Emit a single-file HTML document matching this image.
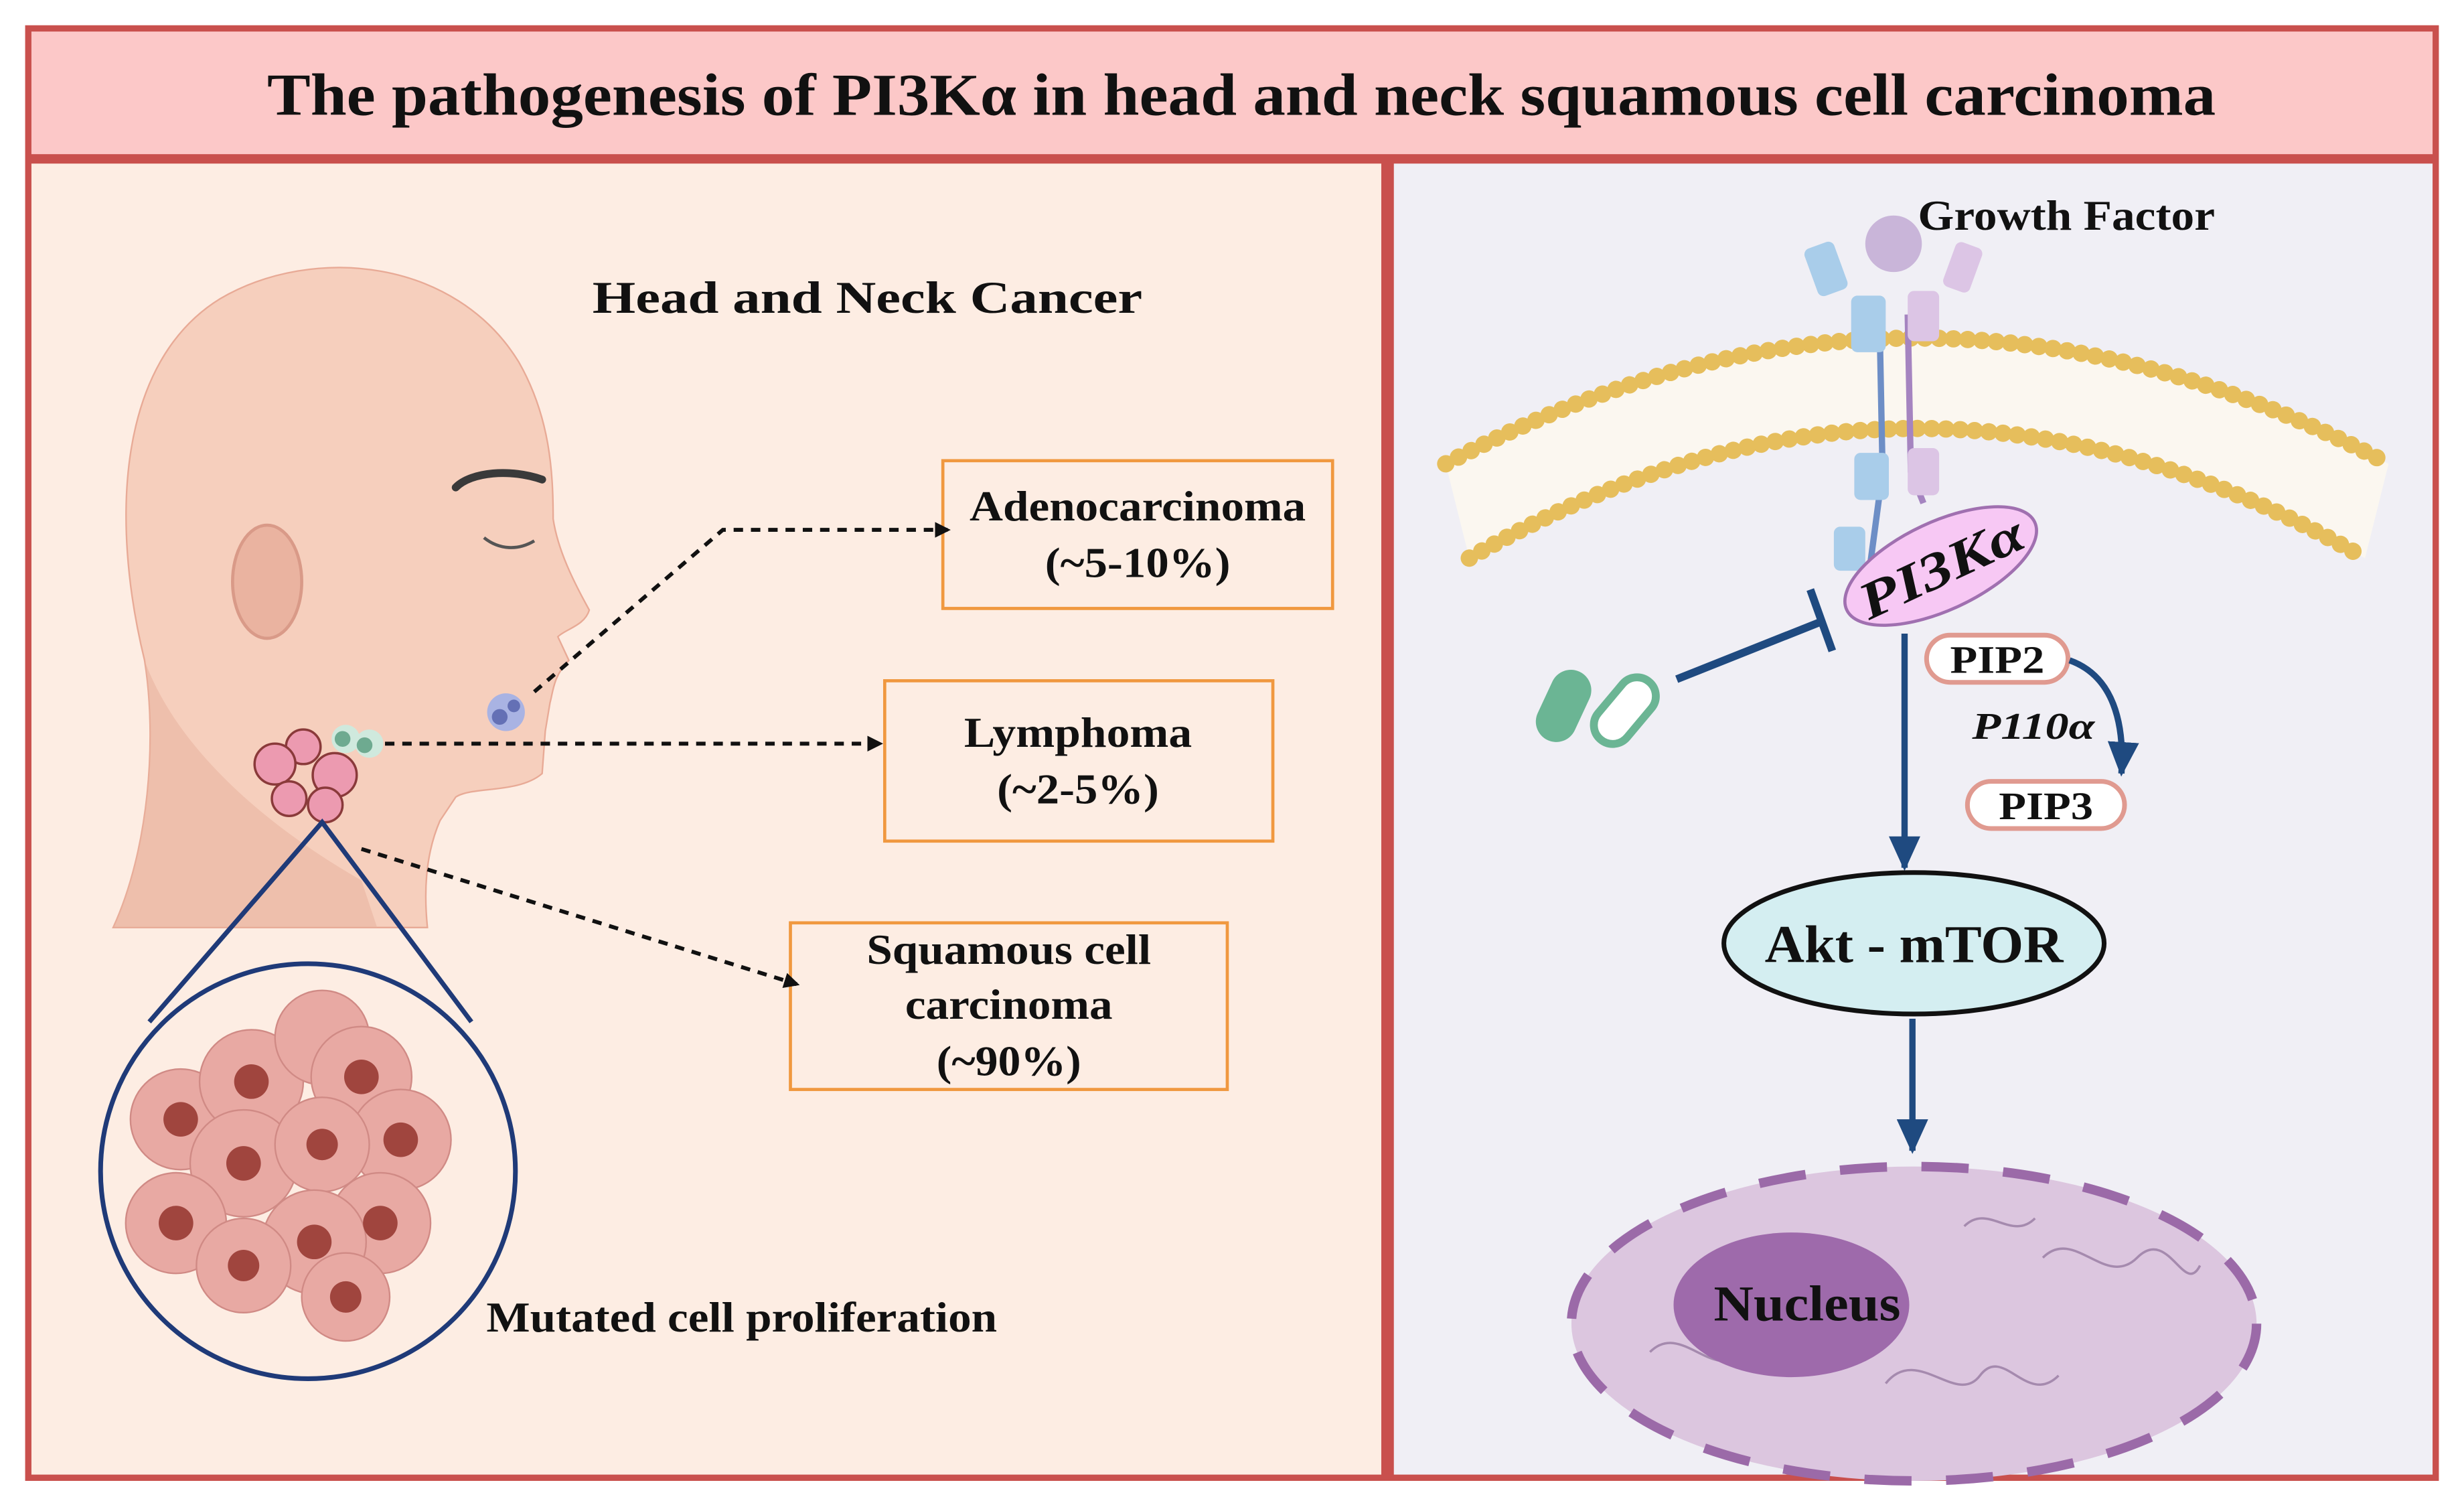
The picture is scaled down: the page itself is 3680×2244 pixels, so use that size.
<!DOCTYPE html>
<html><head><meta charset="utf-8"><style>html,body{margin:0;padding:0;background:#fff}svg{display:block}text{font-family:"Liberation Serif",serif;font-weight:bold}</style></head><body>
<svg width="3680" height="2244" viewBox="0 0 1568 956" xmlns="http://www.w3.org/2000/svg">
<defs>
<marker id="ah" markerWidth="10" markerHeight="10" refX="8" refY="5" orient="auto" markerUnits="userSpaceOnUse"><path d="M0,0 L10,5 L0,10 Z" fill="#111"/></marker>
<marker id="bh" markerWidth="24" markerHeight="20" refX="20" refY="10" orient="auto" markerUnits="userSpaceOnUse"><path d="M0,0 L22,10 L0,20 Z" fill="#1f4a80"/></marker>
</defs>
<rect x="0" y="0" width="1568" height="956" fill="#fff"/>
<rect x="16" y="16" width="1536" height="926" fill="#c9504d"/>
<rect x="20" y="20" width="1528" height="78" fill="#fcc8c8"/>
<rect x="20" y="104" width="859" height="834" fill="#fdede3"/>
<rect x="887" y="104" width="661" height="834" fill="#f0eff5"/>
<text x="790" y="73" font-size="38" text-anchor="middle" fill="#111" textLength="1240" lengthAdjust="spacingAndGlyphs">The pathogenesis of PI3Kα in head and neck squamous cell carcinoma</text>

<!-- head -->
<path d="M72,590 C95,540 100,470 92,420 C70,330 75,230 140,190 C200,155 290,165 330,230 C350,265 352,300 352,330 C355,350 365,370 375,388 C372,398 360,400 355,405 L362,420 C352,430 352,440 350,447 L347,465 L345,492 C330,505 300,500 290,507 L280,522 C270,545 270,570 272,590 Z" fill="#f6cfbd" stroke="#e8aa96" stroke-width="1"/>
<path d="M92,420 C110,470 160,520 230,560 L240,590 L72,590 C95,540 100,470 92,420Z" fill="#e9b4a0" opacity="0.6"/>
<path d="M290,310 C300,300 325,298 345,305" stroke="#3a3a3a" stroke-width="5" fill="none" stroke-linecap="round"/>
<path d="M308,342 C318,350 330,350 340,344" stroke="#555" stroke-width="2" fill="none"/>
<ellipse cx="170" cy="370" rx="22" ry="36" fill="#eab3a0" stroke="#d99a88" stroke-width="2"/>
<g stroke="#8a3a3a" stroke-width="1.5" fill="#ec9ab0">
<circle cx="193" cy="475" r="11"/><circle cx="175" cy="486" r="13"/><circle cx="213" cy="493" r="14"/><circle cx="184" cy="508" r="11"/><circle cx="207" cy="512" r="11"/></g>
<g fill="#cfe9dd"><circle cx="220" cy="470" r="9"/><circle cx="235" cy="473" r="9"/></g>
<g fill="#6eaa90"><circle cx="218" cy="470" r="5"/><circle cx="232" cy="474" r="5"/></g>
<circle cx="322" cy="453" r="12" fill="#a9b3e3"/><circle cx="318" cy="456" r="5" fill="#6470b5"/><circle cx="327" cy="449" r="4" fill="#6470b5"/>
<path d="M95,650 L205,523 L300,650" stroke="#1f3a78" stroke-width="3" fill="none"/>
<circle cx="196" cy="745" r="132" fill="#fdede3" stroke="#1f3a78" stroke-width="3"/>
<g fill="#e8a9a3" stroke="#d08a85" stroke-width="1">
<circle cx="115" cy="712" r="32"/><circle cx="160" cy="688" r="33"/><circle cx="205" cy="660" r="30"/><circle cx="230" cy="685" r="32"/><circle cx="255" cy="725" r="32"/><circle cx="155" cy="740" r="34"/><circle cx="205" cy="728" r="30"/><circle cx="112" cy="778" r="32"/><circle cx="242" cy="778" r="32"/><circle cx="200" cy="790" r="33"/><circle cx="155" cy="805" r="30"/><circle cx="220" cy="825" r="28"/></g>
<g fill="#a0453e"><circle cx="115" cy="712" r="11"/><circle cx="160" cy="688" r="11"/><circle cx="230" cy="685" r="11"/><circle cx="255" cy="725" r="11"/><circle cx="155" cy="740" r="11"/><circle cx="205" cy="728" r="10"/><circle cx="112" cy="778" r="11"/><circle cx="242" cy="778" r="11"/><circle cx="200" cy="790" r="11"/><circle cx="155" cy="805" r="10"/><circle cx="220" cy="825" r="10"/></g>
<text x="552" y="199" font-size="29" text-anchor="middle" fill="#111" textLength="350" lengthAdjust="spacingAndGlyphs">Head and Neck Cancer</text>
<text x="472" y="847" font-size="27" text-anchor="middle" fill="#111" textLength="325" lengthAdjust="spacingAndGlyphs">Mutated cell proliferation</text>
<g fill="none" stroke="#f0983f" stroke-width="2">
<rect x="600" y="293" width="248" height="94"/><rect x="563" y="433" width="247" height="102"/><rect x="503" y="587" width="278" height="106"/></g>
<g font-size="27" text-anchor="middle" fill="#111" lengthAdjust="spacingAndGlyphs">
<text x="724" y="331" textLength="214" lengthAdjust="spacingAndGlyphs">Adenocarcinoma</text><text x="724" y="367" textLength="118" lengthAdjust="spacingAndGlyphs">(~5-10%)</text>
<text x="686" y="475" textLength="145" lengthAdjust="spacingAndGlyphs">Lymphoma</text><text x="686" y="511" textLength="103" lengthAdjust="spacingAndGlyphs">(~2-5%)</text>
<text x="642" y="613" textLength="181" lengthAdjust="spacingAndGlyphs">Squamous cell</text><text x="642" y="648" textLength="132" lengthAdjust="spacingAndGlyphs">carcinoma</text><text x="642" y="684" textLength="92" lengthAdjust="spacingAndGlyphs">(~90%)</text></g>
<g stroke="#111" stroke-width="2.5" stroke-dasharray="6,5" fill="none" marker-end="url(#ah)">
<path d="M340,440 L460,337 L603,337"/><path d="M245,473 L560,473"/><path d="M230,540 L507,626"/></g>

<!-- right panel -->
<text x="1315" y="146" font-size="27" text-anchor="middle" fill="#111" textLength="189" lengthAdjust="spacingAndGlyphs">Growth Factor</text>
<circle cx="1205" cy="155" r="18" fill="#c9b5d9"/>
<path d="M920,295 Q1220,135 1520,295 L1505,355 Q1220,190 935,355 Z" fill="#fbf7f0"/>
<path d="M920,295 Q1220,135 1520,295" stroke="#e6be5c" stroke-width="11" fill="none" stroke-dasharray="0.1 9" stroke-linecap="round"/>
<path d="M935,355 Q1220,190 1505,355" stroke="#e6be5c" stroke-width="11" fill="none" stroke-dasharray="0.1 9" stroke-linecap="round"/>
<path d="M1196,200 L1198,300 L1190,360" stroke="#6d8ec6" stroke-width="4" fill="none"/>
<path d="M1214,200 L1216,300 L1224,320" stroke="#a584c0" stroke-width="4" fill="none"/>
<g fill="#a9cdea"><rect x="1152" y="155" width="20" height="32" rx="4" transform="rotate(-20 1162 171)"/><rect x="1178" y="188" width="22" height="36" rx="4"/><rect x="1180" y="288" width="22" height="30" rx="4"/><rect x="1167" y="335" width="20" height="28" rx="4"/></g>
<g fill="#dcc5e5"><rect x="1240" y="155" width="18" height="30" rx="4" transform="rotate(20 1249 170)"/><rect x="1214" y="185" width="20" height="32" rx="4"/><rect x="1214" y="285" width="20" height="30" rx="4"/></g>
<ellipse cx="1235" cy="360" rx="66" ry="28" fill="#f7c8f4" stroke="#a070b0" stroke-width="2" transform="rotate(-25 1235 360)"/>
<text x="1235" y="372" font-size="33" font-style="italic" text-anchor="middle" fill="#111" transform="rotate(-25 1235 360)" textLength="112" lengthAdjust="spacingAndGlyphs">PI3Kα</text>
<path d="M1067,432 L1160,395" stroke="#1f4a80" stroke-width="5"/>
<path d="M1152,375 L1166,414" stroke="#1f4a80" stroke-width="5"/>
<rect x="982" y="425" width="26" height="48" rx="13" fill="#6bb594" transform="rotate(25 995 449)"/>
<rect x="1022" y="428" width="24" height="48" rx="12" fill="#fff" stroke="#6bb594" stroke-width="5" transform="rotate(40 1034 452)"/>
<rect x="1226" y="404" width="90" height="30" rx="15" fill="#fff" stroke="#e09a90" stroke-width="3"/>
<text x="1271" y="428" font-size="25" text-anchor="middle" fill="#111" textLength="60" lengthAdjust="spacingAndGlyphs">PIP2</text>
<rect x="1252" y="497" width="100" height="30" rx="15" fill="#fff" stroke="#e09a90" stroke-width="3"/>
<text x="1302" y="521" font-size="25" text-anchor="middle" fill="#111" textLength="60" lengthAdjust="spacingAndGlyphs">PIP3</text>
<text x="1294" y="470" font-size="24" font-style="italic" text-anchor="middle" fill="#111" textLength="78" lengthAdjust="spacingAndGlyphs">P110α</text>
<path d="M1317,420 C1345,430 1352,460 1350,492" stroke="#1f4a80" stroke-width="4" fill="none" marker-end="url(#bh)"/>
<path d="M1212,403 L1212,552" stroke="#1f4a80" stroke-width="4" fill="none" marker-end="url(#bh)"/>
<ellipse cx="1218" cy="600" rx="121" ry="45" fill="#d4eef1" stroke="#111" stroke-width="3"/>
<text x="1218" y="612" font-size="34" text-anchor="middle" fill="#111" textLength="190" lengthAdjust="spacingAndGlyphs">Akt - mTOR</text>
<path d="M1217,648 L1217,732" stroke="#1f4a80" stroke-width="4" fill="none" marker-end="url(#bh)"/>
<ellipse cx="1218" cy="842" rx="218" ry="100" fill="#dcc6df" stroke="#9b6aa8" stroke-width="6" stroke-dasharray="30 22"/>
<g stroke="#a58aae" stroke-width="1.5" fill="none"><path d="M1050,860 c20,-20 40,20 60,0 s40,20 60,-10 M1200,880 c20,-25 45,15 60,-5 s30,20 50,0 M1300,800 c20,-20 40,20 60,0 s30,25 40,5 M1250,780 c15,-15 30,10 45,-5"/></g>
<ellipse cx="1140" cy="830" rx="75" ry="46" fill="#9e6aab"/>
<text x="1150" y="840" font-size="32" text-anchor="middle" fill="#111" textLength="119" lengthAdjust="spacingAndGlyphs">Nucleus</text>
</svg>
</body></html>
